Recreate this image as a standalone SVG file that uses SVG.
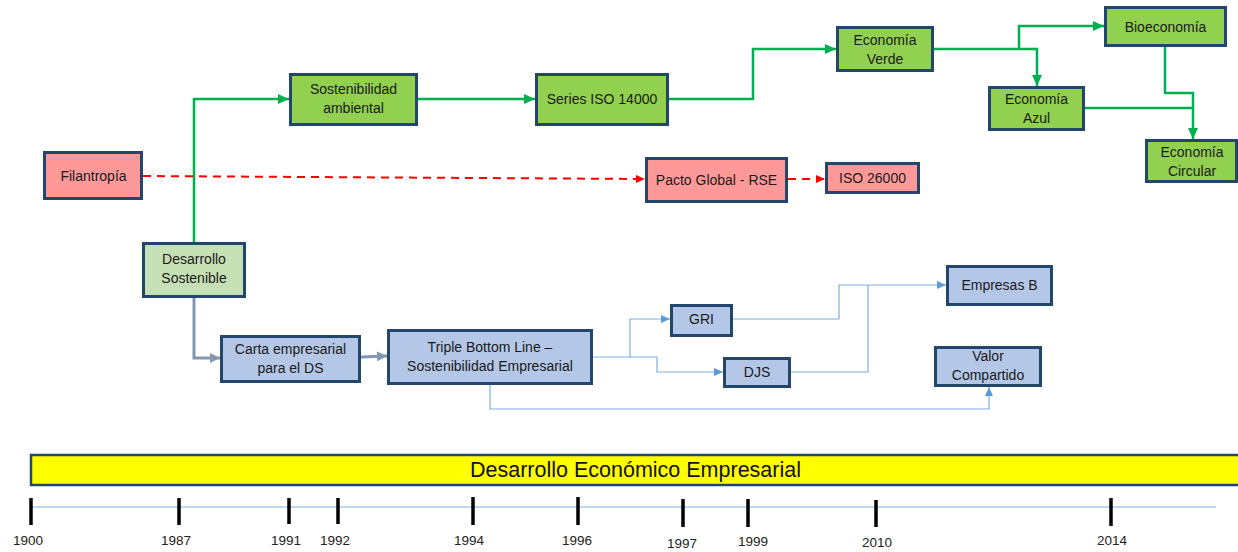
<svg xmlns="http://www.w3.org/2000/svg" width="1238" height="552" viewBox="0 0 1238 552">
  <style>
    .box { stroke: #23476C; stroke-width: 3; }
    .green { fill: #92D050; }
    .pale { fill: #C5E0B4; }
    .pink { fill: #FF9999; }
    .blue { fill: #B4C7E7; }
    text { font-family: "Liberation Sans", Arial, sans-serif; fill: #1A1A1A; }
    .lbl { font-size: 14px; text-anchor: middle; }
    .year { font-size: 13.5px; text-anchor: middle; fill: #222; }
    .title { font-size: 21.5px; text-anchor: middle; fill: #111; }
    .c-green { fill: none; stroke: #00B050; stroke-width: 2.5; }
    .c-red { fill: none; stroke: #FF0000; stroke-width: 2; stroke-dasharray: 8 6; }
    .c-gray { fill: none; stroke: #8497B0; stroke-width: 3; }
    .c-blue { fill: none; stroke: #7EB0E0; stroke-width: 1.2; }
    .tick { stroke: #000; stroke-width: 3.5; }
  </style>
  <defs>
    <marker id="arrGreen" markerUnits="userSpaceOnUse" markerWidth="11" markerHeight="10" refX="11" refY="5" orient="auto">
      <path d="M0,0 L11,5 L0,10 z" fill="#00B050"/>
    </marker>
    <marker id="arrRed" markerUnits="userSpaceOnUse" markerWidth="9" markerHeight="8" refX="9" refY="4" orient="auto">
      <path d="M0,0 L9,4 L0,8 z" fill="#FF0000"/>
    </marker>
    <marker id="arrGray" markerUnits="userSpaceOnUse" markerWidth="10" markerHeight="10" refX="10" refY="5" orient="auto">
      <path d="M0,0 L10,5 L0,10 z" fill="#8497B0"/>
    </marker>
    <marker id="arrBlue" markerUnits="userSpaceOnUse" markerWidth="9" markerHeight="8" refX="9" refY="4" orient="auto">
      <path d="M0,0 L9,4 L0,8 z" fill="#5B9BD5"/>
    </marker>
  </defs>

  <rect width="1238" height="552" fill="#FFFFFF"/>

  <!-- connectors -->
  <g id="connectors">
    <polyline class="c-green" points="194,242 194,99 289,99" marker-end="url(#arrGreen)"/>
    <polyline class="c-green" points="418,99 535,99" marker-end="url(#arrGreen)"/>
    <polyline class="c-green" points="669,99 753,99 753,49 836,49" marker-end="url(#arrGreen)"/>
    <polyline class="c-green" points="934,49 1037,49 1037,86" marker-end="url(#arrGreen)"/>
    <polyline class="c-green" points="1019,49 1019,26 1104,26" marker-end="url(#arrGreen)"/>
    <polyline class="c-green" points="1165,47 1165,93 1193,93 1193,139" marker-end="url(#arrGreen)"/>
    <polyline class="c-green" points="1085,108 1193,108"/>

    <line class="c-red" x1="143" y1="176" x2="645" y2="179" marker-end="url(#arrRed)"/>
    <line class="c-red" x1="788" y1="179" x2="825" y2="179" marker-end="url(#arrRed)"/>

    <polyline class="c-gray" points="194,298 194,358 220,358" marker-end="url(#arrGray)"/>
    <line class="c-gray" x1="361" y1="357" x2="387" y2="356" marker-end="url(#arrGray)"/>

    <polyline class="c-blue" points="593,357 630,357 630,319 670,319" marker-end="url(#arrBlue)"/>
    <polyline class="c-blue" points="630,357 657,357 657,372 723,372" marker-end="url(#arrBlue)"/>
    <polyline class="c-blue" points="733,319 839,319 839,285 946,285" marker-end="url(#arrBlue)"/>
    <polyline class="c-blue" points="791,372 868,372 868,285"/>
    <polyline class="c-blue" points="490,385 490,409 989,409 989,387" marker-end="url(#arrBlue)"/>
  </g>

  <!-- nodes -->
  <g id="filantropia">
    <rect class="box pink" x="44.5" y="152.5" width="97" height="46"/>
    <text class="lbl" x="93.5" y="181">Filantropía</text>
  </g>
  <g id="sostenibilidad-ambiental">
    <rect class="box green" x="290.5" y="74.5" width="126" height="50"/>
    <text class="lbl" x="353.5" y="94">Sostenibilidad</text>
    <text class="lbl" x="353.5" y="113">ambiental</text>
  </g>
  <g id="series-iso-14000">
    <rect class="box green" x="536.5" y="74.5" width="131" height="50"/>
    <text class="lbl" x="602" y="104">Series ISO 14000</text>
  </g>
  <g id="economia-verde">
    <rect class="box green" x="837.5" y="27.5" width="95" height="43"/>
    <text class="lbl" x="885" y="45">Economía</text>
    <text class="lbl" x="885" y="64">Verde</text>
  </g>
  <g id="bioeconomia">
    <rect class="box green" x="1105.5" y="7.5" width="120" height="38"/>
    <text class="lbl" x="1165.5" y="32">Bioeconomía</text>
  </g>
  <g id="economia-azul">
    <rect class="box green" x="989.5" y="87.5" width="94" height="42"/>
    <text class="lbl" x="1036.5" y="104">Economía</text>
    <text class="lbl" x="1036.5" y="123">Azul</text>
  </g>
  <g id="economia-circular">
    <rect class="box green" x="1146.5" y="140.5" width="90" height="41"/>
    <text class="lbl" x="1192" y="157">Economía</text>
    <text class="lbl" x="1192" y="176">Circular</text>
  </g>
  <g id="pacto-global">
    <rect class="box pink" x="646.5" y="158.5" width="140" height="43"/>
    <text class="lbl" x="716.5" y="185">Pacto Global - RSE</text>
  </g>
  <g id="iso-26000">
    <rect class="box pink" x="826.5" y="163.5" width="92" height="29"/>
    <text class="lbl" x="872.5" y="183">ISO 26000</text>
  </g>
  <g id="desarrollo-sostenible">
    <rect class="box pale" x="143.5" y="243.5" width="101" height="53"/>
    <text class="lbl" x="194" y="264">Desarrollo</text>
    <text class="lbl" x="194" y="283">Sostenible</text>
  </g>
  <g id="carta-empresarial">
    <rect class="box blue" x="221.5" y="336.5" width="138" height="45"/>
    <text class="lbl" x="290.5" y="354">Carta empresarial</text>
    <text class="lbl" x="290.5" y="373">para el DS</text>
  </g>
  <g id="triple-bottom-line">
    <rect class="box blue" x="388.5" y="330.5" width="203" height="53"/>
    <text class="lbl" x="490" y="352">Triple Bottom Line –</text>
    <text class="lbl" x="490" y="371">Sostenibilidad Empresarial</text>
  </g>
  <g id="gri">
    <rect class="box blue" x="671.5" y="305.5" width="60" height="30"/>
    <text class="lbl" x="701.5" y="324">GRI</text>
  </g>
  <g id="djs">
    <rect class="box blue" x="724.5" y="358.5" width="65" height="28"/>
    <text class="lbl" x="757" y="377">DJS</text>
  </g>
  <g id="empresas-b">
    <rect class="box blue" x="947.5" y="266.5" width="104" height="38"/>
    <text class="lbl" x="999.5" y="290">Empresas B</text>
  </g>
  <g id="valor-compartido">
    <rect class="box blue" x="935.5" y="347.5" width="105" height="38"/>
    <text class="lbl" x="988" y="361">Valor</text>
    <text class="lbl" x="988" y="380">Compartido</text>
  </g>

  <!-- timeline -->
  <g id="timeline">
    <rect x="31" y="455" width="1215" height="30" fill="#FFFF00" stroke="#23476C" stroke-width="2.5"/>
    <text class="title" x="635.5" y="477">Desarrollo Económico Empresarial</text>
    <line x1="31" y1="507" x2="1216" y2="507" stroke="#BDD7EE" stroke-width="2"/>
    <line class="tick" x1="31" y1="498" x2="31" y2="525"/>
    <line class="tick" x1="179" y1="498" x2="179" y2="525"/>
    <line class="tick" x1="289" y1="498" x2="289" y2="524"/>
    <line class="tick" x1="338" y1="498" x2="338" y2="524"/>
    <line class="tick" x1="473" y1="497" x2="473" y2="525"/>
    <line class="tick" x1="578" y1="497" x2="578" y2="525"/>
    <line class="tick" x1="683" y1="499" x2="683" y2="527"/>
    <line class="tick" x1="748" y1="499" x2="748" y2="527"/>
    <line class="tick" x1="876" y1="500" x2="876" y2="527"/>
    <line class="tick" x1="1111" y1="498" x2="1111" y2="526"/>
    <text class="year" x="28" y="545">1900</text>
    <text class="year" x="176" y="545">1987</text>
    <text class="year" x="286" y="545">1991</text>
    <text class="year" x="335" y="545">1992</text>
    <text class="year" x="469" y="545">1994</text>
    <text class="year" x="577" y="545">1996</text>
    <text class="year" x="682" y="548">1997</text>
    <text class="year" x="753" y="546">1999</text>
    <text class="year" x="877" y="547">2010</text>
    <text class="year" x="1112" y="545">2014</text>
  </g>
</svg>
